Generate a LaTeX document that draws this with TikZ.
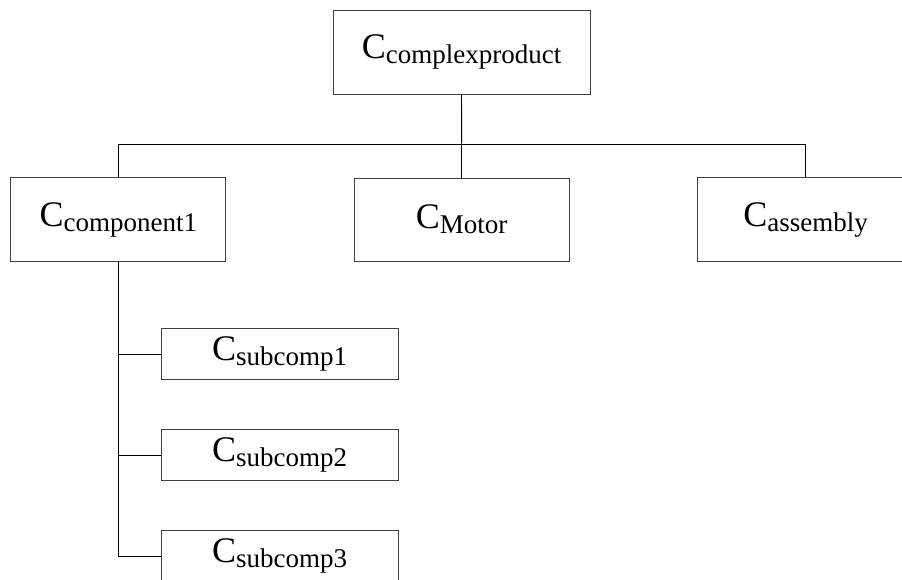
\documentclass[tikz,border=0pt]{standalone}
\usepackage{fontspec}
\setmainfont{Liberation Serif}
% class name: large C with a lowered subscript word
\newcommand\clabel[1]{{\fontsize{36}{36}\selectfont C}\raisebox{-5pt}{\fontsize{27}{27}\selectfont #1}}
\tikzset{
  classbox/.style={draw=black!75, line width=0.9pt, fill=white, inner sep=0pt, align=center},
  link/.style={draw=black, line width=0.9pt}
}
\begin{document}
\begin{tikzpicture}[x=1pt,y=-1pt]
  \useasboundingbox (0,0) rectangle (902,579);
  \clip (0,0) rectangle (902,579);
  % root and first level
  \node[classbox, minimum width=257pt, minimum height=84pt] (root) at (461.5,52) {\clabel{complexproduct}};
  \node[classbox, minimum width=215pt, minimum height=84pt] (comp) at (118.3,219.5) {\clabel{component1}};
  \node[classbox, minimum width=215pt, minimum height=83pt] (motor) at (461.7,219.5) {\clabel{Motor}};
  \node[classbox, minimum width=217pt, minimum height=84pt] (asm) at (805.7,219.5) {\clabel{assembly}};
  % sub components
  \node[classbox, minimum width=237pt, minimum height=51pt] (sub1) at (279.5,354) {\clabel{subcomp1}};
  \node[classbox, minimum width=237pt, minimum height=51pt] (sub2) at (279.5,455) {\clabel{subcomp2}};
  \node[classbox, minimum width=237pt, minimum height=51pt] (sub3) at (279.5,556) {\clabel{subcomp3}};
  % connectors
  \coordinate (bus) at (461.7,144.3);
  \draw[link] (root.south) -- (bus);
  \draw[link] (comp.north) |- (bus) -| (asm.north);
  \draw[link] (bus) -- (motor.north);
  \draw[link] (comp.south) |- (sub3.west);
  \draw[link] (sub1.west) -- (sub1.west -| comp.south);
  \draw[link] (sub2.west) -- (sub2.west -| comp.south);
\end{tikzpicture}
\end{document}
